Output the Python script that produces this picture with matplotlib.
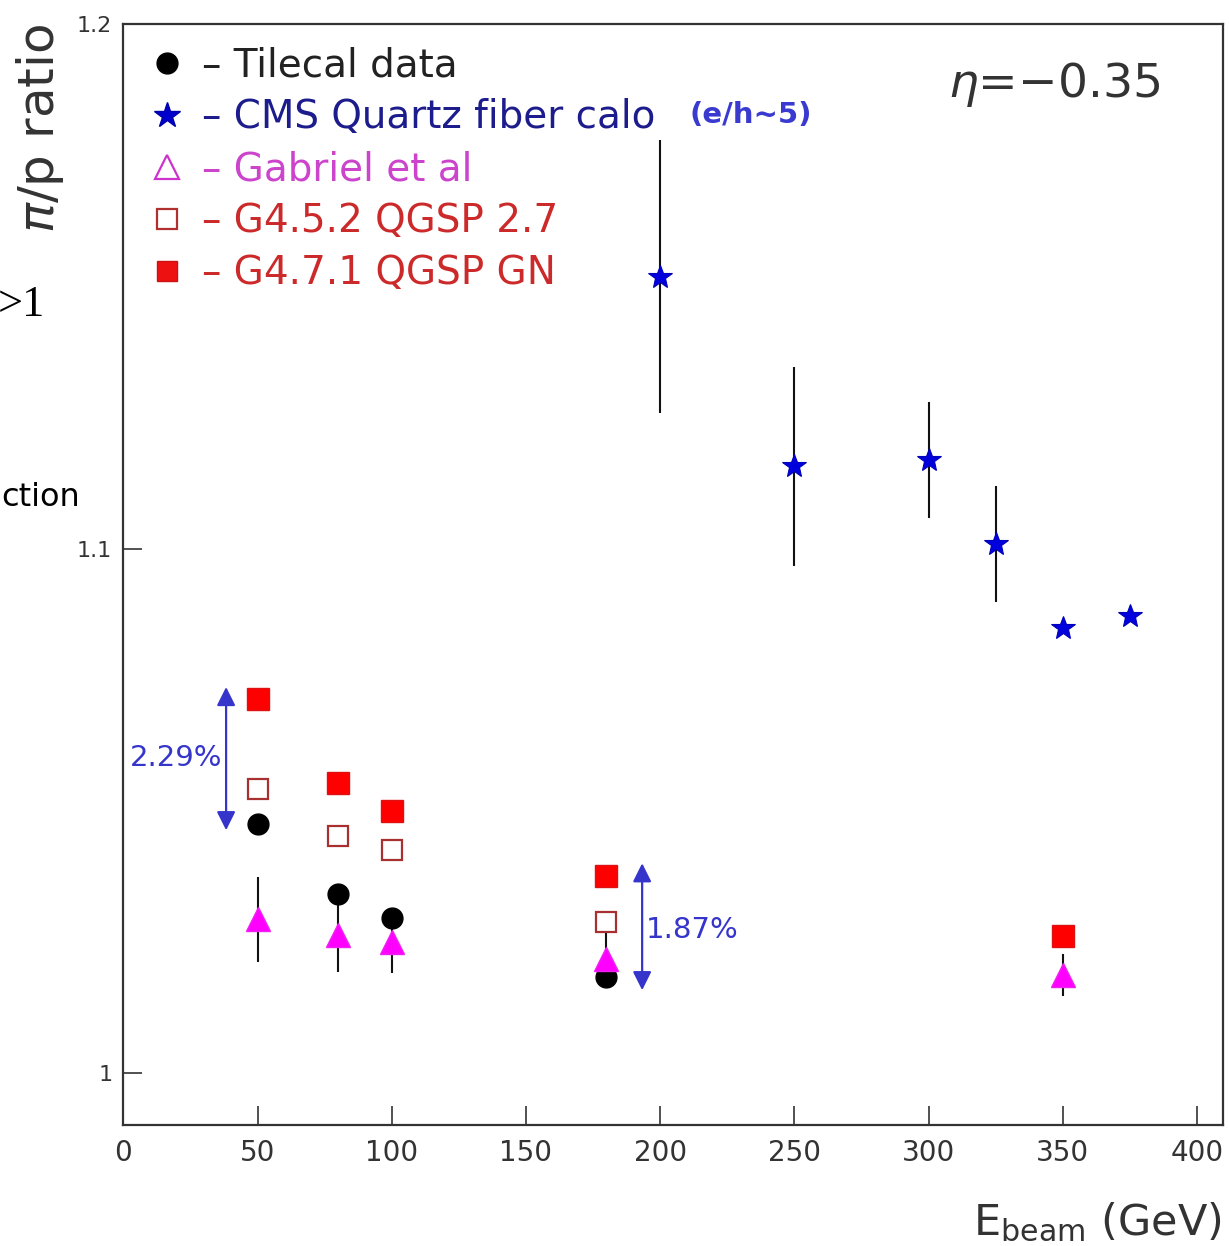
import matplotlib
matplotlib.use("Agg")
import matplotlib.pyplot as plt
from matplotlib.lines import Line2D

# ---------------- data ----------------
tile_x = [50, 80, 100, 180]
tile_y = [1.0475, 1.0341, 1.0296, 1.0183]

cms_x = [200, 250, 300, 325, 350, 375]
cms_y = [1.1518, 1.1157, 1.1169, 1.1009, 1.0848, 1.0871]
cms_err = [0.026, 0.019, 0.011, 0.011, 0.0008, 0.0]

gab_x = [50, 80, 100, 180, 350]
gab_y = [1.0293, 1.0263, 1.0250, 1.0217, 1.0187]
gab_err = [0.0081, 0.0070, 0.0060, 0.0050, 0.0040]

g452_x = [50, 80, 100, 180]
g452_y = [1.0541, 1.0452, 1.0425, 1.0288]
g452_err = [0.0015, 0.0010, 0.0, 0.0]

g471_x = [50, 80, 100, 180, 350]
g471_y = [1.0714, 1.0553, 1.0500, 1.0376, 1.0261]

x_ticks = [0, 50, 100, 150, 200, 250, 300, 350, 400]
y_ticks = [1.0, 1.1, 1.2]
y_ticklabels = ["1", "1.1", "1.2"]

legend_labels = ["\u2013 Tilecal data", "\u2013 CMS Quartz fiber calo",
                 "\u2013 Gabriel et al", "\u2013 G4.5.2 QGSP 2.7",
                 "\u2013 G4.7.1 QGSP GN"]
legend_colors = ["#222222", "#1c1c8c", "#cc44cc", "#cc2a2a", "#cc2a2a"]

# annotation arrows: (x, y_low, y_high, label)
arrow1 = (38.3, 1.0463, 1.0736, "2.29%")
arrow2 = (193.3, 1.0158, 1.0400, "1.87%")

# ---------------- figure ----------------
W, H = 1229, 1246
fig = plt.figure(figsize=(W / 100, H / 100), dpi=100)
ax = fig.add_axes([123.3 / W, 1 - 1125 / H, (1223 - 123.3) / W, (1125 - 24) / H])
ax.set_xlim(0, 409.7)
ax.set_ylim(0.9901, 1.2)

frame_c = "#333333"
for s in ax.spines.values():
    s.set_linewidth(1.6)
    s.set_color(frame_c)

ax.set_xticks(x_ticks)
ax.set_yticks(y_ticks)
ax.set_yticklabels(y_ticklabels)
ax.tick_params(axis="x", direction="in", length=14, width=1.2, colors=frame_c,
               labelsize=20, pad=10, labelcolor="#333333")
ax.tick_params(axis="y", direction="in", length=14, width=1.2, colors=frame_c,
               labelsize=16, pad=8, labelcolor="#333333")
ax.minorticks_off()

# error bars first
ax.errorbar(gab_x, gab_y, yerr=gab_err, fmt="none", ecolor="#111111", elinewidth=1.5, capsize=0, zorder=2)
ax.errorbar(cms_x, cms_y, yerr=cms_err, fmt="none", ecolor="#111111", elinewidth=1.5, capsize=0, zorder=2)
ax.errorbar(g452_x, g452_y, yerr=g452_err, fmt="none", ecolor="#111111", elinewidth=1.5, capsize=0, zorder=2)

ax.plot(g471_x, g471_y, ls="none", marker="s", ms=16, mfc="#ff0000", mec="#dd1111", mew=1, zorder=4)
ax.plot(g452_x, g452_y, ls="none", marker="s", ms=15, mfc="white", mec="#a83030", mew=1.6, zorder=4)
ax.plot(tile_x, tile_y, ls="none", marker="o", ms=15, mfc="black", mec="black", zorder=4)
ax.plot(gab_x, gab_y, ls="none", marker="^", ms=17, mfc="#ff00ff", mec="#ee22ee", mew=1, zorder=5)
ax.plot(cms_x, cms_y, ls="none", marker="*", ms=18, mfc="#0000dd", mec="#0000bb", mew=0.8, zorder=5)

# legend
handles = [
    Line2D([], [], ls="none", marker="o", ms=15, mfc="black", mec="black"),
    Line2D([], [], ls="none", marker="*", ms=19, mfc="#0000cc", mec="#0000aa"),
    Line2D([], [], ls="none", marker="^", ms=17, mfc="white", mec="#cc33cc", mew=1.6),
    Line2D([], [], ls="none", marker="s", ms=15, mfc="white", mec="#b03030", mew=1.6),
    Line2D([], [], ls="none", marker="s", ms=15, mfc="#ee1111", mec="#cc1111"),
]
leg = ax.legend(handles, legend_labels, loc="upper left", bbox_to_anchor=(-0.006, 1.008),
                frameon=False, fontsize=28, handlelength=1.0, handletextpad=0.4,
                labelspacing=0.36, borderaxespad=0.4)
for t, c in zip(leg.get_texts(), legend_colors):
    t.set_color(c)

fig.text(690 / W, 1 - 115 / H, "(e/h~5)", fontsize=21, fontweight="bold",
         color="#3a3ad0", ha="left", va="center")

ax.text(0.943, 0.967, r"$\eta$=$-$0.35", transform=ax.transAxes, fontsize=34,
        color="#333333", ha="right", va="top")

# annotation arrows
for (xa, ylo, yhi, lab), side in [(arrow1, "left"), (arrow2, "right")]:
    ax.annotate("", xy=(xa, yhi), xytext=(xa, ylo),
                arrowprops=dict(arrowstyle="<|-|>", color="#3535cc", lw=1.6,
                                mutation_scale=28, shrinkA=0, shrinkB=0))
    ymid = 0.5 * (ylo + yhi) + (0.0002 if side == "left" else -0.0006)
    if side == "left":
        ax.text(xa - 1.5, ymid, lab, fontsize=21, color="#3535cc", ha="right", va="center")
    else:
        ax.text(xa + 1.5, ymid, lab, fontsize=21, color="#3535cc", ha="left", va="center")

# axis titles
fig.text(40 / W, 1 - 24 / H, r"$\pi$/p ratio", rotation=90, fontsize=36,
         color="#333333", ha="center", va="top")
fig.text(1222 / W, 1 - 1222 / H, r"E$_{\rm beam}$ (GeV)", fontsize=31,
         color="#333333", ha="right", va="center")

# clipped slide text at left edge
fig.text(-2 / W, 1 - 305 / H, ">1", fontsize=32, family="Liberation Serif",
         color="black", ha="left", va="center")
fig.text(1 / W, 1 - 497 / H, "ction", fontsize=23, color="black",
         ha="left", va="center")

fig.savefig("out.png", dpi=100)
